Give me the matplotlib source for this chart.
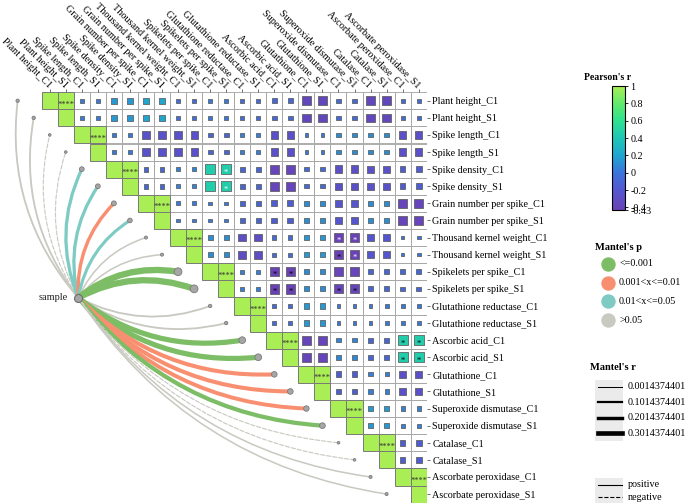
import numpy as np
import matplotlib
matplotlib.use("Agg")
import matplotlib.pyplot as plt
from matplotlib.colors import LinearSegmentedColormap, Normalize
from matplotlib.patches import Rectangle, FancyArrowPatch
from matplotlib.lines import Line2D
import matplotlib.colorbar as mcolorbar

plt.rcParams['font.family'] = ['Liberation Serif', 'DejaVu Serif']

# ---- data ----
traits = ["Plant height", "Spike length", "Spike density", "Grain number per spike",
          "Thousand kernel weight", "Spikelets per spike", "Glutathione reductase",
          "Ascorbic acid", "Glutathione", "Superoxide dismutase", "Catalase",
          "Ascorbate peroxidase"]
sites = ["C1", "S1"]
labels = [f"{t}_{s}" for t in traits for s in sites]

# Pearson r of each trait with the traits after it (C1 and S1 give the same r)
r_plant_height = [0.03, 0.15, 0.20, -0.05, 0.02, -0.06, -0.08, -0.36, -0.06, -0.36, -0.06]
r_spike_length = [0.02, -0.26, -0.26, -0.10, 0.05, -0.28, 0.02, 0.10, 0.10, -0.28]
r_spike_density = [-0.10, 0.06, 0.45, -0.10, -0.38, -0.06, -0.28, -0.26, -0.16]
r_grain_number = [0.03, 0.02, -0.10, -0.16, 0.10, -0.22, 0.10, -0.38]
r_kernel_weight = [0.10, -0.30, -0.06, 0.14, -0.42, -0.22, 0.02]
r_spikelets = [0.05, -0.42, 0.10, -0.38, -0.10, -0.08]
r_glut_reductase = [-0.06, 0.15, 0.03, 0.03, 0.03]
r_ascorbic = [-0.38, 0.08, -0.10, 0.45]
r_glutathione = [-0.16, 0.05, -0.28]
r_sod = [0.15, 0.06]
r_catalase = [-0.16]

# significant cells: (row, col, star colour)
star_cells = [(4, 11, "white"), (5, 11, "white"),
              (8, 18, "white"), (8, 19, "white"), (9, 18, "black"), (9, 19, "white"),
              (10, 14, "black"), (10, 15, "black"), (11, 14, "black"), (11, 15, "black"),
              (11, 18, "black"), (11, 19, "black"),
              (14, 22, "black"), (14, 23, "black"), (15, 22, "black"), (15, 23, "black")]

# Mantel test of sample vs each variable
mantel_p = [">0.05", ">0.05", ">0.05", ">0.05",
            "0.01<x<=0.05", "0.01<x<=0.05", "0.001<x<=0.01", "0.01<x<=0.05",
            ">0.05", ">0.05", "<=0.001", "<=0.001",
            ">0.05", ">0.05", "<=0.001", "<=0.001",
            "0.001<x<=0.01", "0.001<x<=0.01", "0.001<x<=0.01", "<=0.001",
            ">0.05", ">0.05", ">0.05", ">0.05"]
mantel_r = [0.06, 0.06, -0.01, -0.01, 0.16, 0.16, 0.17, 0.15,
            0.04, 0.04, 0.38, 0.38, 0.06, 0.06, 0.30, 0.30,
            0.22, 0.22, 0.21, 0.23, -0.01, -0.01, 0.04, 0.04]

p_levels = ["<=0.001", "0.001<x<=0.01", "0.01<x<=0.05", ">0.05"]
p_colors = ["#7dbd66", "#f98f71", "#7dcbc3", "#c9c9c1"]
r_breaks = [0.0014374401, 0.1014374401, 0.2014374401, 0.3014374401]
cbar_ticks = [1, 0.8, 0.6, 0.4, 0.2, 0, -0.2, -0.4, -0.43]

# ---- build matrix ----
rows = [r_plant_height, r_spike_length, r_spike_density, r_grain_number, r_kernel_weight,
        r_spikelets, r_glut_reductase, r_ascorbic, r_glutathione, r_sod, r_catalase]
nt = len(traits)
R12 = np.eye(nt)
for i, vals in enumerate(rows):
    for k, v in enumerate(vals):
        R12[i, i + 1 + k] = v
        R12[i + 1 + k, i] = v
R = np.kron(R12, np.ones((2, 2)))
n = len(labels)

cmap = LinearSegmentedColormap.from_list(
    "pr", [(0.0, "#6a42b5"), (0.23 / 1.43, "#5358d0"), (0.43 / 1.43, "#3a74dc"),
           (0.63 / 1.43, "#1fa6cf"), (0.83 / 1.43, "#1ec6b6"), (1.03 / 1.43, "#2ee190"),
           (1.23 / 1.43, "#62ea6c"), (1.0, "#aaee55")])
norm = Normalize(vmin=-0.43, vmax=1)

W, H = 685, 504
fig = plt.figure(figsize=(W / 100, H / 100), dpi=100)


def fx(px):
    return px / W


def fy(py):
    return 1 - py / H


ax = fig.add_axes([fx(41.7), fy(502.6), 385 / W, 410.4 / H])
ax.set_xlim(-0.5, n - 0.5)
ax.set_ylim(n - 0.5, -0.5)
for s in ax.spines.values():
    s.set_visible(False)

# cells
xs, ys, cs, ss = [], [], [], []
for i in range(n):
    for j in range(i, n):
        full = R[i, j] >= 0.999
        if full:
            ax.add_patch(Rectangle((j - 0.5, i - 0.5), 1, 1, facecolor=cmap(norm(1)),
                                   edgecolor="#7a7a7a", lw=0.7, zorder=2))
            if j != i:
                ax.text(j, i + 0.22, "****", ha="center", va="center", fontsize=6,
                        color="#333333", zorder=4)
        else:
            ax.add_patch(Rectangle((j - 0.5, i - 0.5), 1, 1, facecolor="white",
                                   edgecolor="#a0a0a0", lw=0.6, zorder=1))
            side = (3.4 + 14.5 * abs(R[i, j])) * 0.72
            xs.append(j)
            ys.append(i)
            cs.append(cmap(norm(R[i, j])))
            ss.append(side ** 2)
ax.scatter(xs, ys, s=ss, c=cs, marker="s", edgecolors="#5a5a5a", linewidths=0.55, zorder=3)
for (i, j, col) in star_cells:
    ax.text(j, i + 0.2, "*", ha="center", va="center", fontsize=6, color=col, zorder=4)

# ticks & labels
ax.xaxis.tick_top()
ax.set_xticks(range(n))
ax.set_xticklabels(labels, rotation=-45, ha="right", rotation_mode="anchor", va="center",
                   fontsize=7.3)
ax.yaxis.tick_right()
ax.set_yticks(range(n))
ax.set_yticklabels(labels, fontsize=7.3)
ax.tick_params(length=2.5, width=0.6, color="#555555", pad=1.5)

# mantel links
sx, sy = 1.78, 11.52
for i in range(n):
    col = p_colors[p_levels.index(mantel_p[i])]
    lw = (1 + 14 * abs(mantel_r[i])) * 0.72
    rad = -0.22 if i < sy else 0.22
    ls = "--" if mantel_r[i] < 0 else "-"
    arr = FancyArrowPatch((sx, sy), (i - 2, i), arrowstyle="-",
                          connectionstyle=f"arc3,rad={rad}", color=col, lw=lw,
                          linestyle=ls, shrinkA=0, shrinkB=0, clip_on=False, zorder=5)
    ax.add_patch(arr)
ends_x = [i - 2 for i in range(n)]
node_s = [((2.5 + 14 * abs(r)) * 0.72) ** 2 for r in mantel_r]
ax.scatter(ends_x, range(n), s=node_s, color="#a6a6a6", edgecolors="#7a7a7a",
           linewidths=0.6, clip_on=False, zorder=6)
ax.scatter([sx], [sy], s=(8 * 0.72) ** 2, color="#a6a6a6", edgecolors="#6e6e6e",
           linewidths=0.8, clip_on=False, zorder=7)
ax.text(sx - 0.62, sy, "sample", ha="right", va="center", fontsize=7.5, color="#222222")

# ---- legends ----
cax = fig.add_axes([fx(612.3), fy(210), 13 / W, 124 / H])
cb = mcolorbar.ColorbarBase(cax, cmap=cmap, norm=norm, orientation="vertical")
cb.set_ticks(cbar_ticks)
cb.set_ticklabels([f"{t:g}" for t in cbar_ticks])
cb.outline.set_linewidth(0.8)
cax.tick_params(labelsize=7.3, length=2.5, width=0.6, pad=1)
fig.text(fx(608), fy(77), "Pearson's r", ha="center", va="center", fontsize=7,
         fontweight="bold")

fig.text(fx(595), fy(247), "Mantel's p", ha="left", va="center", fontsize=7.5,
         fontweight="bold")
for k, (lab, col) in enumerate(zip(p_levels, p_colors)):
    yk = 264 + k * 18.7
    fig.add_artist(Line2D([fx(608)], [fy(yk)], marker="o", markersize=13 * 0.72,
                          color=col, lw=0, transform=fig.transFigure))
    fig.text(fx(619), fy(yk), lab, ha="left", va="center", fontsize=7.3)

fig.text(fx(590), fy(368), "Mantel's r", ha="left", va="center", fontsize=7.5,
         fontweight="bold")
fig.add_artist(Rectangle((fx(595), fy(441)), 28 / W, 61 / H, facecolor="#ebebeb",
                         edgecolor="none", transform=fig.transFigure))
for k, rv in enumerate(r_breaks):
    yk = 386.7 + k * 15.5
    fig.add_artist(Line2D([fx(597.7), fx(622.3)], [fy(yk), fy(yk)], color="black",
                          lw=(1 + 12 * rv) * 0.72, transform=fig.transFigure))
    fig.text(fx(628), fy(yk), f"{rv:.10f}", ha="left", va="center", fontsize=7.3)

fig.add_artist(Rectangle((fx(595), fy(503)), 28 / W, 25 / H, facecolor="#ebebeb",
                         edgecolor="none", transform=fig.transFigure))
for k, (lab, ls) in enumerate([("positive", "-"), ("negative", "--")]):
    yk = 484.5 + k * 12.8
    fig.add_artist(Line2D([fx(597.7), fx(622.3)], [fy(yk), fy(yk)], color="black",
                          lw=0.8, linestyle=ls, transform=fig.transFigure))
    fig.text(fx(628), fy(yk), lab, ha="left", va="center", fontsize=7.3)

fig.savefig("out.png", dpi=100)
